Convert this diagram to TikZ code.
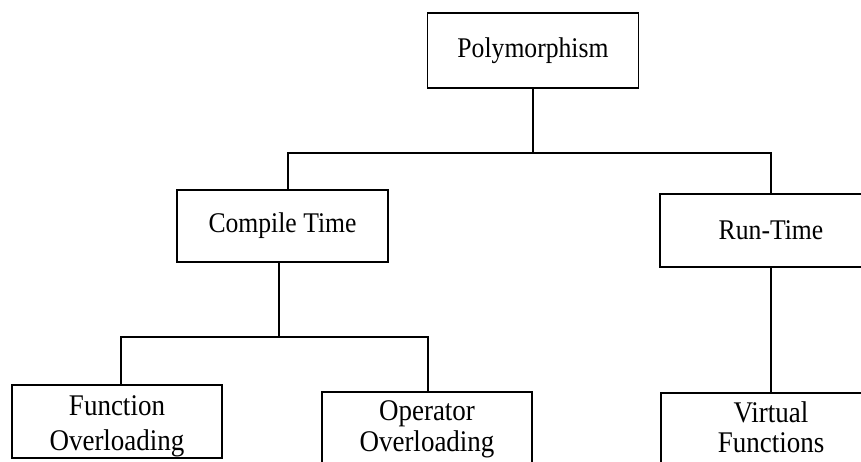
\documentclass[tikz,border=0pt]{standalone}
\usepackage{fontspec}
\setmainfont{Liberation Serif}[FakeStretch=0.9]
\begin{document}
\begin{tikzpicture}[x=1pt,y=-1pt,
  box/.style={draw, line width=1.8pt, rectangle, inner sep=0pt},
  lbl/.style={align=center, font=\fontsize{28.5}{34}\selectfont, inner sep=0pt},
  lbl2/.style={align=center, inner sep=0pt},
  wire/.style={line width=1.8pt}]
\clip (0,0) rectangle (861,461);
% upper level boxes
\node[box, minimum width=211, minimum height=75, lbl] (poly) at (533,50.5) {Polymorphism};
\node[box, minimum width=211, minimum height=72, lbl] (compile) at (282.5,226) {Compile Time};
\node[box, minimum width=222, minimum height=73, lbl] (run) at (771,230.5) {Run-Time};
% lower level boxes (the two on the right run past the bottom edge)
\node[box, minimum width=210, minimum height=73] (func) at (117,421.5) {};
\node[box, anchor=north, minimum width=210, minimum height=110] (op) at (427,391) {};
\node[box, anchor=north, minimum width=220, minimum height=110] (virt) at (771,392) {};
\node[lbl2, font=\fontsize{30}{35}\selectfont] (funct) at ([yshift=-42.5]func.north) {Function\\Overloading};
\node[lbl2, font=\fontsize{30}{31}\selectfont] (opt) at ([yshift=-38]op.north) {Operator\\Overloading};
\node[lbl2, font=\fontsize{30}{30}\selectfont] (virtt) at ([yshift=-35]virt.north) {Virtual\\Functions};
% connectors
\coordinate (j1) at (533,153);
\draw[wire] (poly.south) -- (j1);
\draw[wire] ([xshift=5.5]compile.north) |- (run.north |- j1) -- (run.north);
\coordinate (j2) at (279,337);
\draw[wire] ([xshift=-3.5]compile.south) -- (j2);
\draw[wire] ([xshift=4]func.north) |- ([xshift=1]op.north |- j2) -- ([xshift=1]op.north);
\draw[wire] (run.south) -- (virt.north);
\end{tikzpicture}
\end{document}
